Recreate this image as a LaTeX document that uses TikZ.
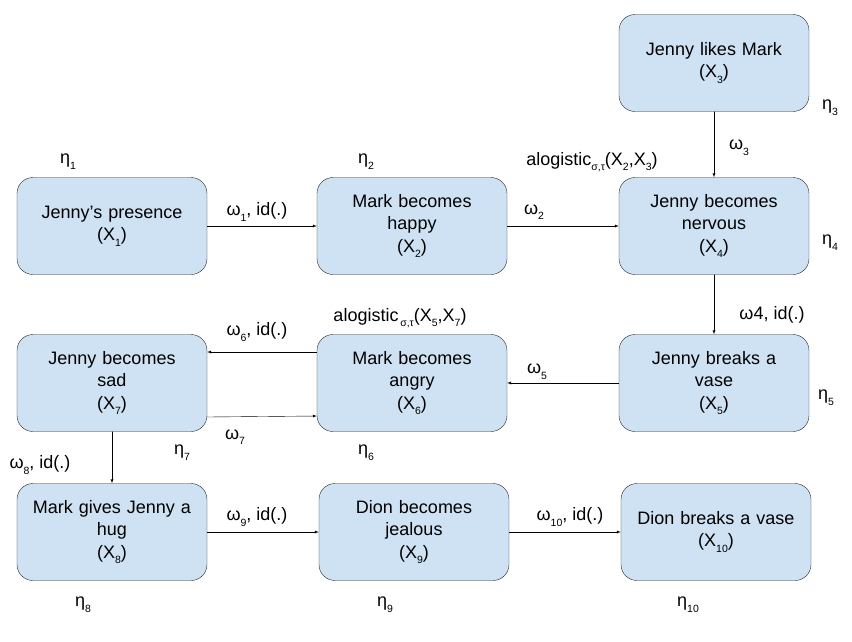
\documentclass[tikz,border=0pt]{standalone}
\usepackage{fontspec}
\setmainfont{Liberation Sans}
\usepackage{xcolor}
\usepackage{tikz}
\usetikzlibrary{shapes,arrows}
\definecolor{boxblue}{HTML}{CFE2F3}
\newcommand{\lowsub}[1]{\raisebox{-0.6ex}{\fontsize{10.5}{10.5}\selectfont #1}}

\begin{document}
\begin{tikzpicture}
    [line cap=round,line join=round,x=1pt,y=-1pt,
     every node/.style={font=\fontsize{18}{22.5}\selectfont},
     box/.style={draw=black!85,fill=boxblue,thin,rounded corners=16pt,
        minimum width=190pt,minimum height=97pt,text width=186pt,inner sep=2pt,align=center},
     lbl/.style={inner sep=0pt,anchor=center},
     conn/.style={-latex,color=black,thin}]
\useasboundingbox (0,0) rectangle (852,641);
%main layer
%the boxes
\node[box] (x3) at (714,63) {Jenny likes Mark\\(X\lowsub{3})};
\node[box] (x1) at (112,226) {Jenny’s presence\\(X\lowsub{1})};
\node[box] (x2) at (412,226) {Mark becomes\\happy\\(X\lowsub{2})};
\node[box] (x4) at (714,226) {Jenny becomes\\nervous\\(X\lowsub{4})};
\node[box] (x7) at (112,383) {Jenny becomes\\sad\\(X\lowsub{7})};
\node[box] (x6) at (412,383) {Mark becomes\\angry\\(X\lowsub{6})};
\node[box] (x5) at (714,383) {Jenny breaks a\\vase\\(X\lowsub{5})};
\node[box] (x8) at (112,532) {Mark gives Jenny a\\hug\\(X\lowsub{8})};
\node[box] (x9) at (414,532) {Dion becomes\\jealous\\(X\lowsub{9})};
\node[box] (x10) at (716,532) {Dion breaks a vase\\(X\lowsub{10})};

%the arrows
\draw[conn] (x1) -- (x2);
\draw[conn] (x2) -- (x4);
\draw[conn] (x3) -- (x4);
\draw[conn] (x4) -- (x5);
\draw[conn] (x5) -- (x6);
\draw[conn] ([yshift=31pt]x6.west) -- ([yshift=31pt]x7.east);
\draw[conn] ([yshift=-34pt]x7.east) -- ([yshift=-33pt]x6.west);
\draw[conn] (x7) -- (x8);
\draw[conn] (x8) -- (x9);
\draw[conn] (x9) -- (x10);

%weights
\node[lbl] (w1) at (257,212) {ω\lowsub{1}, id(.)};
\node[lbl] (w2) at (534,212) {ω\lowsub{2}};
\node[lbl] (a4) at (592,162) {alogistic\lowsub{σ,τ}(X\lowsub{2},X\lowsub{3})};
\node[lbl] (w3) at (739,148) {ω\lowsub{3}};
\node[lbl] (w4) at (772,315) {ω4, id(.)};
\node[lbl] (w5) at (537,372) {ω\lowsub{5}};
\node[lbl] (a6) at (400,318) {alogistic\lowsub{\,σ,τ}(X\lowsub{5},X\lowsub{7})};
\node[lbl] (w6) at (257,332) {ω\lowsub{6}, id(.)};
\node[lbl] (w7) at (235,437) {ω\lowsub{7}};
\node[lbl] (w8) at (40,465) {ω\lowsub{8}, id(.)};
\node[lbl] (w9) at (257,517) {ω\lowsub{9}, id(.)};
\node[lbl] (w10) at (570,517) {ω\lowsub{10}, id(.)};

%speed factors
\node[lbl] (e1) at (68,162) {η\lowsub{1}};
\node[lbl] (e2) at (366,162) {η\lowsub{2}};
\node[lbl] (e3) at (830,108) {η\lowsub{3}};
\node[lbl] (e4) at (830,243) {η\lowsub{4}};
\node[lbl] (e5) at (826,398) {η\lowsub{5}};
\node[lbl] (e6) at (366,453) {η\lowsub{6}};
\node[lbl] (e7) at (182,453) {η\lowsub{7}};
\node[lbl] (e8) at (83,605) {η\lowsub{8}};
\node[lbl] (e9) at (385,605) {η\lowsub{9}};
\node[lbl] (e10) at (688,605) {η\lowsub{10}};
\end{tikzpicture}
\end{document}
